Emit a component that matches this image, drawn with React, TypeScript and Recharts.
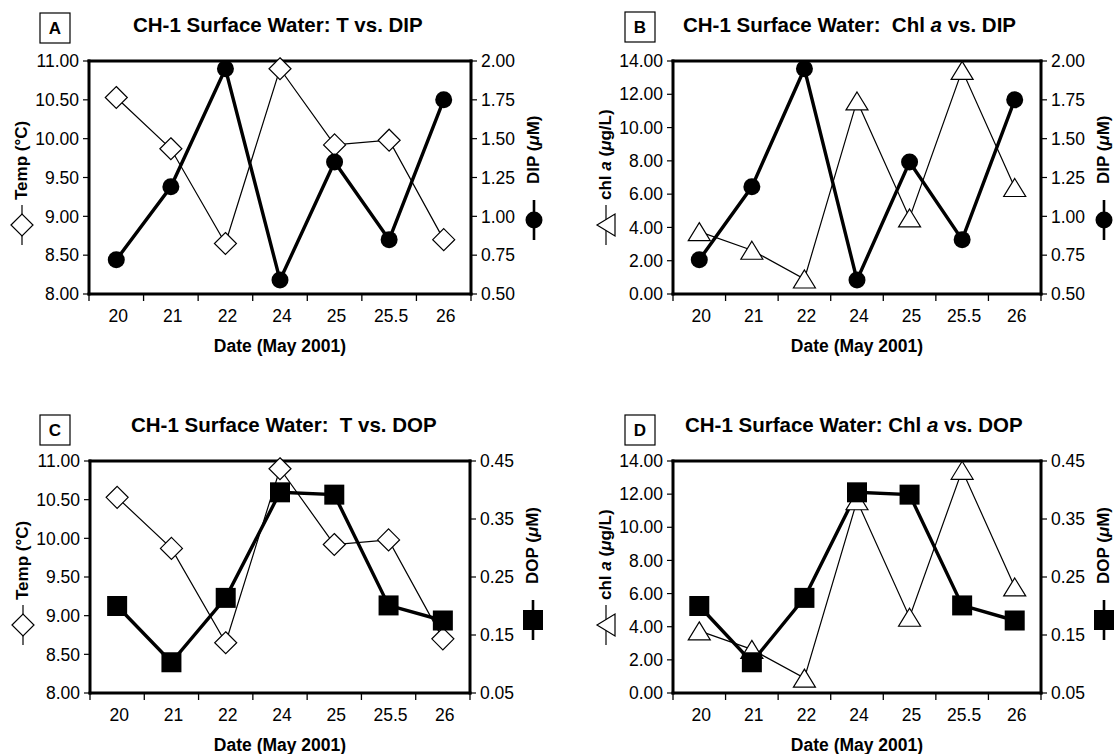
import React from "react"
import { LineChart, Line, XAxis, YAxis, ReferenceLine } from "recharts"

// sampling dates (May 2001), shown as category labels
const dates = ["20", "21", "22", "24", "25", "25.5", "26"]

// surface water measurements at CH-1
const tempC = [10.53, 9.87, 8.65, 10.9, 9.92, 9.98, 8.7]
const chlA = [3.75, 2.63, 0.9, 11.6, 4.57, 13.44, 6.4]
const dipUM = [0.72, 1.19, 1.95, 0.59, 1.35, 0.85, 1.75]
const dopUM = [0.2, 0.103, 0.214, 0.396, 0.392, 0.201, 0.175]

const tempTicks = [8, 8.5, 9, 9.5, 10, 10.5, 11]
const chlTicks = [0, 2, 4, 6, 8, 10, 12, 14]
const dipTicks = [0.5, 0.75, 1, 1.25, 1.5, 1.75, 2]
const dopTicks = [0.05, 0.15, 0.25, 0.35, 0.45]

const FONT = "'Liberation Sans', Arial, Helvetica, sans-serif"

type Kind = "diamond" | "triangle" | "circle" | "square"
type Part = { t: string; i?: boolean }

type Series = { values: number[]; ticks: number[]; kind: Kind; width: number; label: Part[] }

type Panel = {
  letter: string
  title: Part[]
  ox: number
  oy: number
  plot: { l: number; r: number; t: number; b: number }
  box: { x: number; y: number }
  titleX: number
  titleY: number
  left: Series
  right: Series
}

const tempLabel: Part[] = [{ t: "Temp (°C)" }]
const chlLabel: Part[] = [{ t: "chl " }, { t: "a", i: true }, { t: " (" }, { t: "μ", i: true }, { t: "g/L)" }]
const dipLabel: Part[] = [{ t: "DIP (" }, { t: "μ", i: true }, { t: "M)" }]
const dopLabel: Part[] = [{ t: "DOP (" }, { t: "μ", i: true }, { t: "M)" }]

const tempSeries: Series = { values: tempC, ticks: tempTicks, kind: "diamond", width: 1.2, label: tempLabel }
const chlSeries: Series = { values: chlA, ticks: chlTicks, kind: "triangle", width: 1.2, label: chlLabel }
const dipSeries: Series = { values: dipUM, ticks: dipTicks, kind: "circle", width: 3.4, label: dipLabel }
const dopSeries: Series = { values: dopUM, ticks: dopTicks, kind: "square", width: 3.4, label: dopLabel }

const panels: Panel[] = [
  {
    letter: "A",
    title: [{ t: "CH-1 Surface Water: T vs. DIP" }],
    ox: 0, oy: 0,
    plot: { l: 89, r: 471, t: 61, b: 294 },
    box: { x: 40, y: 13 }, titleX: 133, titleY: 32,
    left: tempSeries, right: dipSeries,
  },
  {
    letter: "B",
    title: [{ t: "CH-1 Surface Water:  Chl " }, { t: "a", i: true }, { t: " vs. DIP" }],
    ox: 558, oy: 0,
    plot: { l: 673, r: 1041, t: 61, b: 294 },
    box: { x: 625, y: 12 }, titleX: 683, titleY: 32,
    left: chlSeries, right: dipSeries,
  },
  {
    letter: "C",
    title: [{ t: "CH-1 Surface Water:  T vs. DOP" }],
    ox: 0, oy: 377,
    plot: { l: 90, r: 470, t: 461, b: 693 },
    box: { x: 40, y: 415 }, titleX: 131, titleY: 432,
    left: tempSeries, right: dopSeries,
  },
  {
    letter: "D",
    title: [{ t: "CH-1 Surface Water: Chl " }, { t: "a", i: true }, { t: " vs. DOP" }],
    ox: 558, oy: 377,
    plot: { l: 673, r: 1041, t: 461, b: 693 },
    box: { x: 625, y: 415 }, titleX: 685, titleY: 432,
    left: chlSeries, right: dopSeries,
  },
]

function Mark({ kind, cx, cy }: { kind: Kind; cx: number; cy: number }) {
  if (cx == null || cy == null) return null
  switch (kind) {
    case "diamond":
      return (
        <polygon
          points={`${cx},${cy - 11} ${cx + 11},${cy} ${cx},${cy + 11} ${cx - 11},${cy}`}
          fill="#fff"
          stroke="#000"
          strokeWidth={1.2}
        />
      )
    case "triangle":
      return (
        <polygon
          points={`${cx},${cy - 9} ${cx + 11},${cy + 9} ${cx - 11},${cy + 9}`}
          fill="#fff"
          stroke="#000"
          strokeWidth={1.2}
        />
      )
    case "circle":
      return <circle cx={cx} cy={cy} r={8.5} fill="#000" />
    default:
      return <rect x={cx - 10} y={cy - 10} width={20} height={20} fill="#000" />
  }
}

function Parts({ parts }: { parts: Part[] }) {
  return (
    <>
      {parts.map((p, i) => (
        <tspan key={i} fontStyle={p.i ? "italic" : "normal"}>
          {p.t}
        </tspan>
      ))}
    </>
  )
}

function DateTick(props: any) {
  const { x, payload, axisY, bw } = props
  const isLast = payload.value === dates[dates.length - 1]
  return (
    <g>
      <line x1={x - bw / 2} x2={x - bw / 2} y1={axisY} y2={axisY + 7} stroke="#000" strokeWidth={1.3} />
      {isLast && <line x1={x + bw / 2} x2={x + bw / 2} y1={axisY} y2={axisY + 7} stroke="#000" strokeWidth={1.3} />}
      <text x={x + 2} y={axisY + 28} textAnchor="middle" fontSize={17.5} fontFamily={FONT} fill="#000">
        {payload.value}
      </text>
    </g>
  )
}

const axisLine = { stroke: "#000", strokeWidth: 3, strokeLinecap: "square" as const }
const tickLine = { stroke: "#000", strokeWidth: 1.2 }
const tickStyle = { fill: "#000", fontSize: 17.5, fontFamily: FONT }

function PanelChart({ p }: { p: Panel }) {
  const W = 558
  const H = 377
  const yw = 50
  const xh = 30
  const pl = p.plot.l - p.ox
  const pr = p.plot.r - p.ox
  const pt = p.plot.t - p.oy
  const pb = p.plot.b - p.oy
  const margin = { left: pl - yw, right: W - pr - yw, top: pt, bottom: H - pb - xh }
  const bw = (pr - pl) / dates.length
  const rows = dates.map((d, i) => ({ date: d, a: p.left.values[i], b: p.right.values[i] }))
  const lt = p.left.ticks
  const rt = p.right.ticks

  return (
    <div style={{ position: "absolute", left: p.ox, top: p.oy }}>
      <LineChart width={W} height={H} data={rows} margin={margin}>
        <XAxis
          dataKey="date"
          height={xh}
          interval={0}
          padding={{ left: bw / 2, right: bw / 2 }}
          axisLine={axisLine}
          tickLine={false}
          tick={(t: any) => <DateTick {...t} axisY={pb} bw={bw} />}
        />
        <YAxis
          yAxisId="left"
          width={yw}
          domain={[lt[0], lt[lt.length - 1]]}
          ticks={lt}
          interval={0}
          tickFormatter={(v: number) => v.toFixed(2)}
          axisLine={axisLine}
          tickLine={tickLine}
          tickSize={6}
          tickMargin={4}
          tick={tickStyle}
        />
        <YAxis
          yAxisId="right"
          orientation="right"
          width={yw}
          domain={[rt[0], rt[rt.length - 1]]}
          ticks={rt}
          interval={0}
          tickFormatter={(v: number) => v.toFixed(2)}
          axisLine={axisLine}
          tickLine={tickLine}
          tickSize={6}
          tickMargin={4}
          tick={tickStyle}
        />
        <ReferenceLine
          yAxisId="left"
          y={lt[lt.length - 1]}
          stroke="#000"
          strokeWidth={3}
          strokeLinecap="square"
          ifOverflow="visible"
        />
        <Line
          yAxisId="left"
          dataKey="a"
          type="linear"
          stroke="#000"
          strokeWidth={p.left.width}
          dot={(d: any) => <Mark key={`a${d.index}`} kind={p.left.kind} cx={d.cx} cy={d.cy} />}
          activeDot={false}
          isAnimationActive={false}
        />
        <Line
          yAxisId="right"
          dataKey="b"
          type="linear"
          stroke="#000"
          strokeWidth={p.right.width}
          dot={(d: any) => <Mark key={`b${d.index}`} kind={p.right.kind} cx={d.cx} cy={d.cy} />}
          activeDot={false}
          isAnimationActive={false}
        />
      </LineChart>
    </div>
  )
}

function LegendGlyph({ s, x, y }: { s: Series; x: number; y: number }) {
  return (
    <g transform={`rotate(-90 ${x} ${y})`}>
      <line x1={x - 20} x2={x + 20} y1={y} y2={y} stroke="#000" strokeWidth={s.width > 2 ? 2.6 : 1.2} />
      <Mark kind={s.kind} cx={x} cy={y} />
    </g>
  )
}

function Decor({ p }: { p: Panel }) {
  const { l, r, t, b } = p.plot
  const lx = l - 62
  const ly = t + 139
  const rx = r + 68
  const ry = t + 123
  return (
    <g fontFamily={FONT} fill="#000">
      <rect x={p.box.x} y={p.box.y} width={30} height={30} fill="none" stroke="#000" strokeWidth={1.2} />
      <text x={p.box.x + 15} y={p.box.y + 21} textAnchor="middle" fontWeight="bold" fontSize={17}>
        {p.letter}
      </text>
      <text x={p.titleX} y={p.titleY} fontWeight="bold" fontSize={20.5} style={{ whiteSpace: "pre" }}>
        <Parts parts={p.title} />
      </text>
      <text x={(l + r) / 2} y={b + 58} textAnchor="middle" fontWeight="bold" fontSize={17.5}>
        Date (May 2001)
      </text>
      <text x={lx} y={ly} transform={`rotate(-90 ${lx} ${ly})`} fontWeight="bold" fontSize={17}>
        <Parts parts={p.left.label} />
      </text>
      <LegendGlyph s={p.left} x={l - 67} y={t + 164} />
      <text x={rx} y={ry} transform={`rotate(-90 ${rx} ${ry})`} fontWeight="bold" fontSize={17}>
        <Parts parts={p.right.label} />
      </text>
      <LegendGlyph s={p.right} x={r + 63} y={t + 159} />
    </g>
  )
}

export default function App() {
  return (
    <div style={{ position: "absolute", left: 0, top: 0, width: 1116, height: 754, background: "#fff" }}>
      {panels.map((p) => (
        <PanelChart key={p.letter} p={p} />
      ))}
      <svg width={1116} height={754} style={{ position: "absolute", left: 0, top: 0, pointerEvents: "none" }}>
        {panels.map((p) => (
          <Decor key={p.letter} p={p} />
        ))}
      </svg>
    </div>
  )
}
